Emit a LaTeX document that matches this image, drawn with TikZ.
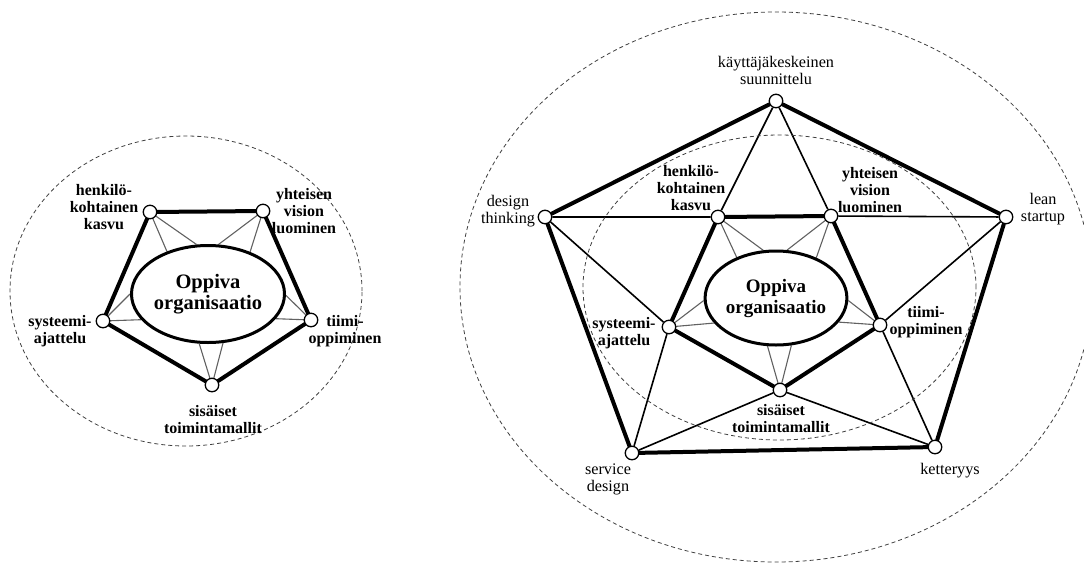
\documentclass[tikz,border=0pt]{standalone}
\usepackage{fontspec}
\setmainfont{Liberation Serif}
\usetikzlibrary{shapes.geometric}
\pgfdeclarelayer{background}
\pgfsetlayers{background,main}
\begin{document}
\begin{tikzpicture}[x=1pt,y=-1pt,
  dot/.style={circle,draw,fill=white,line width=1.3pt,minimum size=13.5pt,inner sep=0pt},
  core/.style={ellipse,draw,line width=3pt,inner sep=0pt,align=center,
    font=\bfseries\fontsize{20.5}{21.5}\selectfont},
  heavy/.style={line width=4pt,line cap=round},
  link/.style={line width=1.6pt},
  spoke/.style={line width=1.1pt,draw=black!62},
  zone/.style={draw=black!75,line width=0.8pt,dash pattern=on 4pt off 3pt},
  blabel/.style={align=center,inner sep=0pt,font=\bfseries\fontsize{16}{17}\selectfont},
  rlabel/.style={align=center,inner sep=0pt,font=\fontsize{16.2}{17}\selectfont}]
\useasboundingbox (0,0) rectangle (1084,563);
\clip (0,0) rectangle (1084,563);

% ---------- dashed zones ----------
\draw[zone] (186,291) ellipse [x radius=176pt, y radius=155pt];
\draw[zone] (776,287) ellipse [x radius=316pt, y radius=275pt];
\draw[zone] (779.5,287.5) ellipse [x radius=196.5pt, y radius=152.5pt];

% ---------- left figure ----------
\node[core,minimum width=127pt,minimum height=97pt] (lc) at (208,294) {Oppiva\\organisaatio};
\node[dot] (lh) at (150,212) {};
\node[dot] (ly) at (263,211) {};
\node[dot] (lt) at (311,320) {};
\node[dot] (ls) at (212,385) {};
\node[dot] (lj) at (103,321) {};

\node[blabel] at (104,207) {henkilö-\\kohtainen\\kasvu};
\node[blabel] at (304,211) {yhteisen\\vision\\luominen};
\node[blabel] at (345,331) {tiimi-\\oppiminen};
\node[blabel] at (60,331) {systeemi-\\ajattelu};
\node[blabel] at (213,420) {sisäiset\\toimintamallit};

\begin{pgfonlayer}{background}
  \draw[heavy] (lh) -- (ly);
  \draw[heavy] (ly) -- (lt);
  \draw[heavy] (lt) -- (ls);
  \draw[heavy] (ls) -- (lj);
  \draw[heavy] (lj) -- (lh);
  \draw[spoke] (lh.center) -- (lc.134) (lh.center) -- (lc.103);
  \draw[spoke] (ly.center) -- (lc.78) (ly.center) -- (lc.45);
  \draw[spoke] (lt.center) -- (lc.-1) (lt.center) -- (lc.-20);
  \draw[spoke] (ls.center) -- (lc.260) (ls.center) -- (lc.287);
  \draw[spoke] (lj.center) -- (lc.180) (lj.center) -- (lc.201);
\end{pgfonlayer}

% ---------- right figure ----------
\node[core,minimum width=125pt,minimum height=94pt,font=\bfseries\fontsize{19}{21}\selectfont] (rc) at (776,298) {Oppiva\\organisaatio};
\node[dot] (rh) at (718,217) {};
\node[dot] (ry) at (831,216) {};
\node[dot] (rt) at (880,325) {};
\node[dot] (rs) at (780,390) {};
\node[dot] (rj) at (669,327) {};

\node[dot] (ok) at (776,101) {};
\node[dot] (ol) at (1006,217) {};
\node[dot] (oe) at (935,447) {};
\node[dot] (os) at (632,453) {};
\node[dot] (od) at (545,217) {};

\node[blabel] at (691,188.5) {henkilö-\\kohtainen\\kasvu};
\node[blabel] at (870,190.5) {yhteisen\\vision\\luominen};
\node[blabel] at (926,322) {tiimi-\\oppiminen};
\node[blabel] at (624,333) {systeemi-\\ajattelu};
\node[blabel] at (781,418.5) {sisäiset\\toimintamallit};

\node[rlabel] at (776,70.5) {käyttäjäkeskeinen\\suunnittelu};
\node[rlabel] at (508,211.5) {design\\thinking};
\node[rlabel] at (1043,209.5) {lean\\startup};
\node[rlabel] at (950,471) {ketteryys};
\node[rlabel] at (608,479) {service\\design};

\begin{pgfonlayer}{background}
  \draw[heavy] (ok) -- (ol);
  \draw[heavy] (ol) -- (oe);
  \draw[heavy] (oe) -- (os);
  \draw[heavy] (os) -- (od);
  \draw[heavy] (od) -- (ok);
  \draw[heavy] (rh) -- (ry);
  \draw[heavy] (ry) -- (rt);
  \draw[heavy] (rt) -- (rs);
  \draw[heavy] (rs) -- (rj);
  \draw[heavy] (rj) -- (rh);
  \draw[link] (ok) -- (rh) (ok) -- (ry);
  \draw[link] (ol) -- (ry) (ol) -- (rt);
  \draw[link] (oe) -- (rt) (oe) -- (rs);
  \draw[link] (os) -- (rs) (os) -- (rj);
  \draw[link] (od) -- (rj) (od) -- (rh);
  \draw[spoke] (rh.center) -- (rc.134) (rh.center) -- (rc.105);
  \draw[spoke] (ry.center) -- (rc.77) (ry.center) -- (rc.45);
  \draw[spoke] (rt.center) -- (rc.-2) (rt.center) -- (rc.-21);
  \draw[spoke] (rs.center) -- (rc.260) (rs.center) -- (rc.288);
  \draw[spoke] (rj.center) -- (rc.182) (rj.center) -- (rc.202);
\end{pgfonlayer}
\end{tikzpicture}
\end{document}
